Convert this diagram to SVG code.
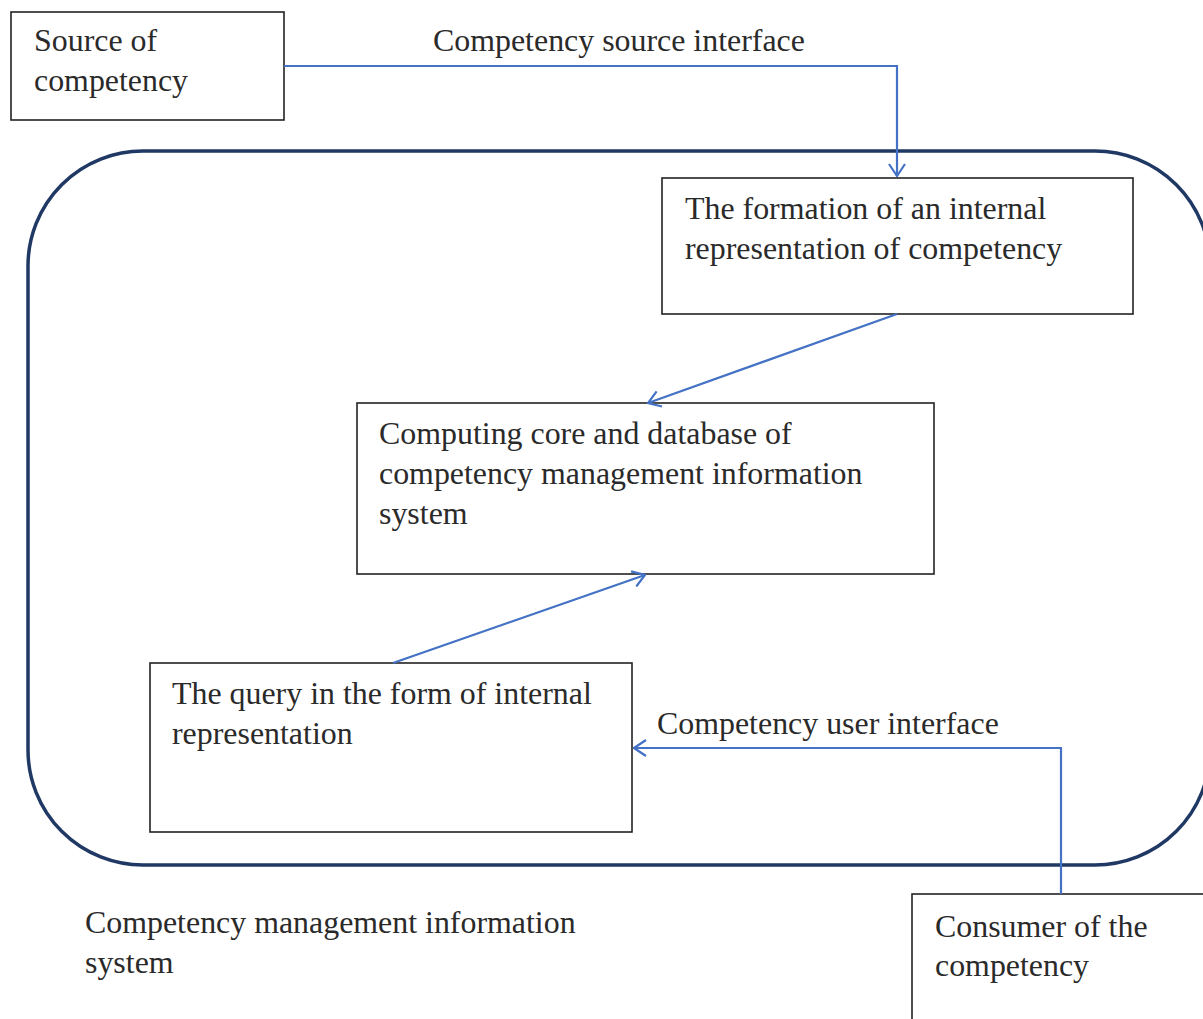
<svg xmlns="http://www.w3.org/2000/svg" width="1203" height="1019" viewBox="0 0 1203 1019">
<defs>
<style>
.box{fill:#fff;stroke:#222;stroke-width:1.6}
.t{font-family:"Liberation Serif","Times New Roman",serif;font-size:31.9px;fill:#2a2a2a}
.c{fill:none;stroke:#4472c4;stroke-width:2.2}
</style>
<marker id="ah" viewBox="0 0 14 18" refX="13" refY="9" markerWidth="14" markerHeight="18" markerUnits="userSpaceOnUse" orient="auto">
<path d="M1,1 L13,9 L1,17" fill="none" stroke="#4472c4" stroke-width="2.2"/>
</marker>
</defs>
<rect x="0" y="0" width="1203" height="1019" fill="#fff"/>
<g id="system">
<rect x="28" y="151" width="1182" height="714" rx="115" ry="115" fill="none" stroke="#1f3864" stroke-width="3.5"/>
<text class="t" x="85" y="933">Competency management information</text>
<text class="t" x="85" y="973">system</text>
</g>
<g id="source">
<rect class="box" x="11" y="12" width="273" height="108"/>
<text class="t" x="34" y="51">Source of</text>
<text class="t" x="34" y="91">competency</text>
</g>
<g id="formation">
<rect class="box" x="662" y="178" width="471" height="136"/>
<text class="t" x="685" y="219">The formation of an internal</text>
<text class="t" x="685" y="259">representation of competency</text>
</g>
<g id="core">
<rect class="box" x="357" y="403" width="577" height="171"/>
<text class="t" x="379" y="444">Computing core and database of</text>
<text class="t" x="379" y="484">competency management information</text>
<text class="t" x="379" y="524">system</text>
</g>
<g id="query">
<rect class="box" x="150" y="663" width="482" height="169"/>
<text class="t" x="172" y="704">The query in the form of internal</text>
<text class="t" x="172" y="744">representation</text>
</g>
<g id="consumer">
<rect class="box" x="912" y="894" width="300" height="140"/>
<text class="t" x="935" y="937">Consumer of the</text>
<text class="t" x="935" y="976">competency</text>
</g>
<g id="connectors">
<polyline class="c" points="284,66 897,66 897,176" marker-end="url(#ah)"/>
<line class="c" x1="897" y1="314" x2="648" y2="403" marker-end="url(#ah)"/>
<line class="c" x1="393" y1="663" x2="645" y2="575" marker-end="url(#ah)"/>
<polyline class="c" points="1061,894 1061,748 634,748" marker-end="url(#ah)"/>
<text class="t" x="433" y="51">Competency source interface</text>
<text class="t" x="657" y="734">Competency user interface</text>
</g>
</svg>
